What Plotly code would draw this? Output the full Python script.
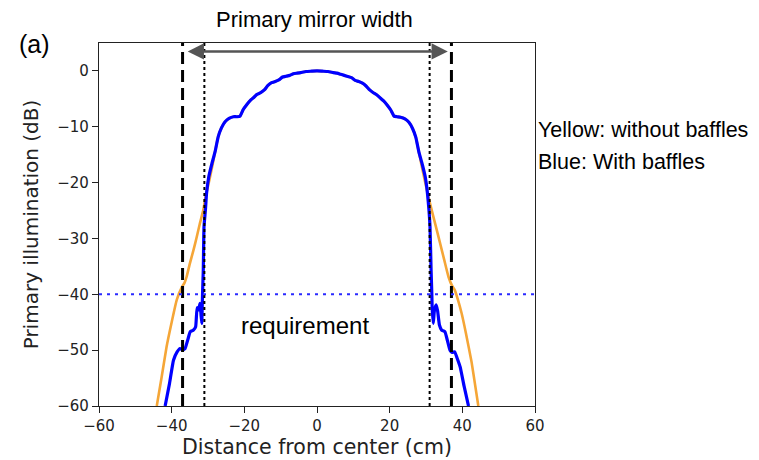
import plotly.graph_objects as go

# ---- data ----
main_x = [-28.0, -27.2, -26.3, -25.3, -24.2, -23.0, -22.0, -21.2, -20.3, -19.3, -18.4, -17.5,
          -16.5, -15.5, -14.5, -13.5, -12.5, -11.5, -10.5, -9.5, -8.5, -7.5, -6.5, -5.5, -4.5,
          -3.0, -1.5, 0.0, 1.5, 3.0, 4.5, 5.5, 6.5, 7.5, 8.5, 9.5, 10.5, 11.5, 12.5, 13.5, 14.5,
          15.5, 16.5, 17.5, 18.4, 19.3, 20.3, 21.2, 22.0, 23.0, 24.2, 25.3, 26.3, 27.2, 28.0]
main_y = [-14.3, -11.8, -10.2, -9.1, -8.5, -8.2, -8.2, -8.1, -6.9, -6.0, -5.3, -4.8,
          -4.2, -3.9, -3.4, -2.6, -2.1, -1.9, -1.6, -1.1, -0.95, -0.8, -0.5, -0.4, -0.3,
          -0.1, -0.05, 0.0, -0.05, -0.1, -0.3, -0.4, -0.6, -0.8, -1.0, -1.2, -1.7, -1.9, -2.2,
          -2.7, -3.4, -3.9, -4.3, -4.9, -5.4, -6.1, -7.0, -8.1, -8.2, -8.3, -8.6, -9.2, -10.3, -11.9, -14.4]

blue_left_x = [-41.8, -40.6, -39.5, -38.5, -37.7, -37.0, -36.3, -35.5, -34.9, -34.0, -33.4, -33.0,
               -32.6, -32.2, -31.9, -31.7, -31.6, -31.5, -31.3, -31.1, -30.7, -30.4, -29.8, -29.0]
blue_left_y = [-60.0, -56.0, -51.8, -50.3, -49.7, -50.0, -49.7, -48.0, -46.7, -46.4, -45.8, -42.4,
               -42.8, -41.6, -43.8, -45.2, -42.5, -39.8, -35.7, -27.9, -24.8, -21.9, -19.0, -16.8]
blue_right_x = [29.0, 29.8, 30.4, 30.8, 31.1, 31.4, 31.6, 31.7, 32.0, 32.3, 32.8, 33.2, 33.7,
                34.3, 35.2, 35.9, 36.6, 37.2, 37.9, 38.6, 39.4, 40.5, 41.7]
blue_right_y = [-16.8, -19.0, -21.9, -24.8, -27.9, -35.7, -39.8, -42.5, -45.2, -43.0, -41.9, -43.0, -45.5,
                -46.4, -46.7, -48.3, -50.0, -50.4, -50.3, -51.5, -53.0, -56.5, -60.0]

orange_left_x = [-44.1, -42.8, -41.4, -40.0, -38.6, -37.2, -36.5, -35.9, -35.0, -34.0, -33.2,
                 -32.3, -31.3, -30.5, -29.6, -28.8]
orange_left_y = [-60.0, -55.0, -49.4, -45.0, -41.0, -38.7, -38.0, -36.9, -34.5, -32.1, -30.0,
                 -27.5, -24.9, -22.0, -19.5, -17.0]
orange_right_x = [28.8, 29.8, 31.1, 32.5, 33.9, 35.0, 36.2, 37.2, 37.9, 38.8, 39.8, 41.0, 42.5, 44.4]
orange_right_y = [-17.0, -20.0, -23.7, -27.3, -30.9, -33.8, -36.9, -38.5, -39.2, -41.0, -43.4, -47.0, -52.0, -60.0]

outer_edges = [-37, 37]      # dashed lines
inner_edges = [-31, 31]      # dotted lines
requirement_db = -40
arrow_span = [-36, 36]
arrow_level = 3.5

x_ticks = [-60, -40, -20, 0, 20, 40, 60]
y_ticks = [0, -10, -20, -30, -40, -50, -60]

# ---- figure ----
fig = go.Figure()
orange_x = orange_left_x + main_x + orange_right_x
orange_y = orange_left_y + main_y + orange_right_y
blue_x = blue_left_x + main_x + blue_right_x
blue_y = blue_left_y + main_y + blue_right_y

fig.add_trace(go.Scatter(x=orange_x, y=orange_y, mode="lines",
                         line=dict(color="#f5a637", width=2.6, shape="spline", smoothing=0.4),
                         showlegend=False, hoverinfo="skip"))
fig.add_trace(go.Scatter(x=blue_x, y=blue_y, mode="lines",
                         line=dict(color="#0000ff", width=3.2, shape="spline", smoothing=0.4),
                         showlegend=False, hoverinfo="skip"))

for xv in outer_edges:
    fig.add_shape(type="line", x0=xv, x1=xv, y0=0, y1=1, xref="x", yref="paper",
                  line=dict(color="black", width=3, dash="12px,6px"), layer="above")
for xv in inner_edges:
    fig.add_shape(type="line", x0=xv, x1=xv, y0=0, y1=1, xref="x", yref="paper",
                  line=dict(color="black", width=2, dash="3px,3px"), layer="above")
fig.add_shape(type="line", x0=0, x1=1, y0=requirement_db, y1=requirement_db, xref="paper", yref="y",
              line=dict(color="#2a2aff", width=2, dash="3px,5px"), layer="above")

fig.add_annotation(x=arrow_span[1], y=arrow_level, ax=arrow_span[0], ay=arrow_level,
                   xref="x", yref="y", axref="x", ayref="y", text="", showarrow=True,
                   arrowside="end+start", arrowhead=2, arrowsize=1.3, arrowwidth=2.5,
                   arrowcolor="#555555")

txt_font = dict(family="Liberation Sans, Arial, sans-serif", color="black")
fig.add_annotation(x=0.495, y=1.066, xref="paper", yref="paper", text="Primary mirror width",
                   showarrow=False, xanchor="center", yanchor="middle", font=dict(size=22, **txt_font))
fig.add_annotation(x=-0.147, y=0.997, xref="paper", yref="paper", text="(a)",
                   showarrow=False, xanchor="center", yanchor="middle", font=dict(size=25, **txt_font))
fig.add_annotation(x=1.003, y=0.760, xref="paper", yref="paper", text="Yellow: without baffles",
                   showarrow=False, xanchor="left", yanchor="middle", font=dict(size=21.5, **txt_font))
fig.add_annotation(x=1.003, y=0.673, xref="paper", yref="paper", text="Blue: With baffles",
                   showarrow=False, xanchor="left", yanchor="middle", font=dict(size=21.5, **txt_font))
fig.add_annotation(x=-3.3, y=-45.5, xref="x", yref="y", text="requirement",
                   showarrow=False, xanchor="center", yanchor="middle", font=dict(size=24, **txt_font))

axis_font = dict(family="DejaVu Sans, sans-serif", color="#222222")
# x-axis title placed as an annotation so that it sits right at the bottom edge
fig.add_annotation(x=0.5, y=-0.112, xref="paper", yref="paper", text="Distance from center (cm)",
                   showarrow=False, xanchor="center", yanchor="middle", font=dict(size=20.5, **axis_font))

fig.update_xaxes(range=[-60, 60], tickvals=x_ticks, ticks="outside", ticklen=6, tickwidth=1.2,
                 tickcolor="#222", showline=True, linecolor="#222", linewidth=1.2, mirror=True,
                 showgrid=False, zeroline=False, tickfont=dict(size=15, **axis_font),
                 ticklabelstandoff=0, automargin=False)
fig.update_yaxes(range=[-60, 5], tickvals=y_ticks, ticks="outside", ticklen=6, tickwidth=1.2,
                 tickcolor="#222", showline=True, linecolor="#222", linewidth=1.2, mirror=True,
                 showgrid=False, zeroline=False, tickfont=dict(size=15, **axis_font), automargin=False,
                 title=dict(text="Primary illumination (dB)", font=dict(size=20, **axis_font), standoff=13))

# page body has an 8px margin, so the figure is 8px smaller and margins are shifted
fig.update_layout(width=751, height=452, margin=dict(l=91, r=224, t=35, b=54),
                  paper_bgcolor="white", plot_bgcolor="white", showlegend=False)

fig.write_html("out.html")
